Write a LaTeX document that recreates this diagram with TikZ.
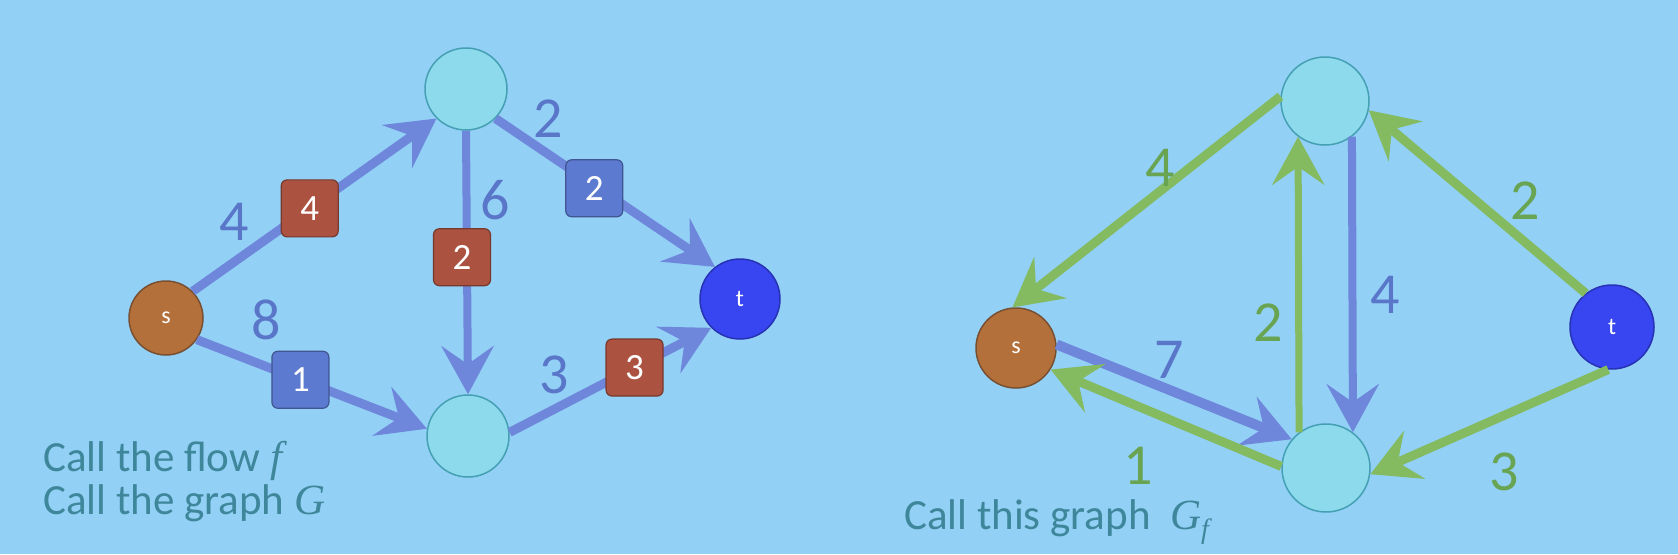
\documentclass[tikz,border=0pt]{standalone}
\usepackage{fontspec}
\setmainfont{Carlito}
\newfontfamily\mathserif{Liberation Serif}
\usetikzlibrary{arrows.meta}
\definecolor{bg}{RGB}{146,208,246}
\definecolor{nodecyan}{RGB}{140,218,236}
\definecolor{nodeborder}{RGB}{70,160,180}
\definecolor{sbrown}{RGB}{180,112,58}
\definecolor{sborder}{RGB}{120,80,50}
\definecolor{tblue}{RGB}{55,70,240}
\definecolor{tborder}{RGB}{40,50,180}
\definecolor{eblue}{RGB}{110,135,218}
\definecolor{egreen}{RGB}{132,186,96}
\definecolor{boxred}{RGB}{172,82,64}
\definecolor{boxblue}{RGB}{92,122,208}
\definecolor{lblblue}{RGB}{90,118,200}
\definecolor{lblgreen}{RGB}{104,164,82}
\definecolor{txtteal}{RGB}{62,134,154}
\newcommand{\itvar}[1]{{\mathserif\itshape #1}}
\tikzset{
  vert/.style={circle, draw=nodeborder, line width=1.5pt, fill=nodecyan, minimum size=#1, inner sep=0pt},
  srcnode/.style={circle, draw=sborder, line width=1.5pt, fill=sbrown, minimum size=#1, inner sep=0pt, text=white, font=\fontsize{24}{24}\selectfont},
  snknode/.style={circle, draw=tborder, line width=1.5pt, fill=tblue, minimum size=#1, inner sep=0pt, text=white, font=\fontsize{24}{24}\selectfont},
  tip/.style={-{Stealth[length=48pt,width=52pt,inset=18pt]}},
  bedge/.style={draw=eblue, line width=#1, tip},
  gedge/.style={draw=egreen, line width=#1, tip},
  flowbox/.style={rectangle, rounded corners=6pt, minimum size=57pt, inner sep=0pt, fill=#1, draw=#1!70!black, line width=1.2pt, text=white, font=\fontsize{37}{37}\selectfont},
  blbl/.style={text=lblblue, font=\fontsize{58}{58}\selectfont, inner sep=0pt},
  glbl/.style={text=lblgreen, font=\fontsize{58}{58}\selectfont, inner sep=0pt},
  caption/.style={text=txtteal, font=\fontsize{43}{43}\selectfont, inner sep=0pt, anchor=base west}
}
\begin{document}
\begin{tikzpicture}[x=1pt,y=-1pt]
\fill[bg] (0,0) rectangle (1678,554);
\useasboundingbox (0,0) rectangle (1678,554);

% ---------- left graph G ----------
\node[srcnode=74pt] (s1) at (166,318) {s};
\node[vert=82pt] (a1) at (466,89) {};
\node[vert=82pt] (b1) at (468,436) {};
\node[snknode=80pt] (t1) at (740,299) {t};

\draw[bedge=9pt] (s1.45) -- node[pos=0.48, flowbox=boxred] (f1) {4} (a1.225);
\draw[bedge=9pt] (s1.-35) -- node[pos=0.45, flowbox=boxblue] (f2) {1} (b1.170);
\draw[bedge=8pt] (a1.south) -- node[pos=0.48, xshift=-5pt, flowbox=boxred] (f3) {2} (b1.north);
\draw[bedge=9pt] (a1.-45) -- node[pos=0.45, yshift=-3pt, flowbox=boxblue] (f4) {2} (t1.128);
\draw[bedge=9pt] (b1.5) -- node[pos=0.62, flowbox=boxred] (f5) {3} (t1.225);

\node[blbl] (c1) at (234,222) {4};
\node[blbl] (c2) at (266,320) {8};
\node[blbl] (c3) at (495,200) {6};
\node[blbl] (c4) at (548,119) {2};
\node[blbl] (c5) at (554,375) {3};

\node[caption] (txt1) at (43,471) {Call the flow \itvar{f}};
\node[caption] (txt2) at (43,514) {Call the graph \itvar{G}};

% ---------- right graph G_f ----------
\node[srcnode=80pt] (s2) at (1016,348) {s};
\node[vert=88pt] (a2) at (1325,101) {};
\node[vert=88pt] (b2) at (1326,468) {};
\node[snknode=84pt] (t2) at (1612,327) {t};

\draw[gedge=9pt] (a2.174) -- (s2.95);
\draw[bedge=10pt] (s2.5) -- (b2.140);
\draw[gedge=9pt] (b2.178) -- (s2.-32);
\draw[gedge=7pt] (b2.127) -- (a2.233);
\draw[bedge=8pt] (a2.-53) -- (b2.53);
\draw[gedge=9pt] (t2.128) -- (a2.-12);
\draw[gedge=9pt] (t2.-95) -- (b2.-8);

\node[glbl] (d1) at (1160,168) {4};
\node[blbl] (d2) at (1169,360) {7};
\node[glbl] (d3) at (1138,466) {1};
\node[glbl] (d4) at (1268,323) {2};
\node[blbl] (d5) at (1385,295) {4};
\node[glbl] (d6) at (1525,201) {2};
\node[glbl] (d7) at (1504,472) {3};

\node[caption] (txt3) at (904,529) {Call this graph\ \ \itvar{G}\raisebox{-9pt}{\fontsize{28}{28}\selectfont\itvar{f}}};
\end{tikzpicture}
\end{document}
